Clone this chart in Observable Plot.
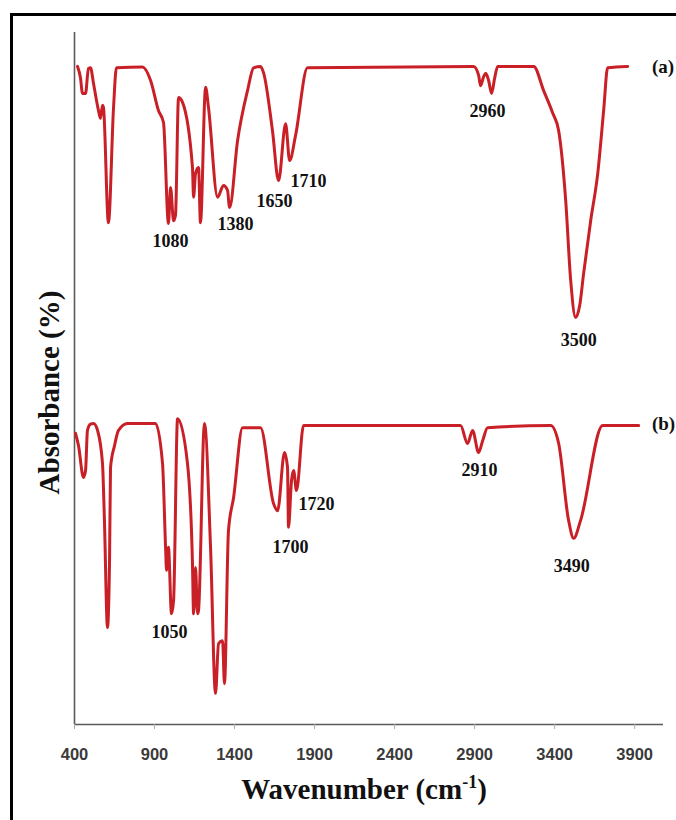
<!DOCTYPE html>
<html>
<head>
<meta charset="utf-8">
<script src="https://cdn.jsdelivr.net/npm/d3@7"></script>
<script src="https://cdn.jsdelivr.net/npm/@observablehq/plot@0.6"></script>
<style>
  html, body { margin: 0; padding: 0; background: #fff; overflow: hidden; }
  #wrap { position: relative; width: 676px; height: 820px; overflow: hidden; background: #fff; }
  #frame { position: absolute; left: 10px; top: 13px; width: 720px; height: 860px; border: 3px solid #000; box-sizing: border-box; pointer-events: none; }
  #chart { position: absolute; left: 0; top: 0; }
</style>
</head>
<body>
<div id="wrap"><div id="chart"></div><div id="frame"></div></div>
<script>
// Spectrum (a): wavenumber (cm-1) and absorbance (%)
const wnA  = [419, 437, 450, 469, 487, 500, 519, 550, 562, 575, 581, 612, 644, 662, 825, 875, 925, 956, 987, 1000, 1019, 1031, 1050, 1075, 1137, 1144, 1156, 1175, 1187, 1219, 1237, 1294, 1331, 1356, 1369, 1419, 1481, 1519, 1562, 1581, 1637, 1675, 1719, 1744, 1781, 1856, 2894, 2925, 2937, 2956, 2969, 2987, 3006, 3025, 3044, 3269, 3331, 3387, 3425, 3469, 3500, 3531, 3556, 3581, 3625, 3669, 3706, 3731, 3856];
const absA = [95.1, 93.5, 91.2, 91.2, 94.8, 94.9, 92.6, 88.7, 87.6, 89.5, 89.2, 72.5, 89.2, 94.9, 95.0, 93.1, 88.7, 87.0, 72.4, 77.6, 72.8, 73.6, 90.6, 89.9, 80.5, 76.2, 79.6, 80.5, 72.5, 92.1, 89.2, 76.2, 77.9, 77.2, 74.7, 84.4, 91.6, 94.9, 95.1, 94.2, 85.8, 78.6, 86.8, 81.5, 85.1, 94.9, 95.1, 93.8, 92.3, 93.6, 94.1, 93.1, 91.2, 93.4, 95.1, 95.1, 91.6, 88.4, 85.8, 75.7, 64.2, 58.8, 60.5, 65.2, 72.8, 79.6, 88.7, 94.9, 95.1];

// Spectrum (b)
const wnB  = [406, 425, 456, 469, 481, 500, 519, 544, 575, 587, 606, 619, 625, 650, 675, 731, 906, 950, 969, 975, 987, 1006, 1019, 1044, 1106, 1137, 1144, 1156, 1169, 1175, 1212, 1250, 1281, 1300, 1325, 1337, 1362, 1394, 1450, 1562, 1644, 1669, 1712, 1731, 1737, 1756, 1769, 1787, 1831, 2812, 2856, 2887, 2925, 2950, 2981, 3375, 3425, 3487, 3519, 3562, 3700, 3925];
const absB = [42.1, 40.3, 35.7, 36.7, 42.5, 43.4, 43.5, 42.5, 37.7, 29.5, 14.0, 23.7, 37.1, 40.3, 42.5, 43.5, 43.5, 37.7, 25.6, 22.3, 25.6, 16.0, 17.9, 44.2, 37.7, 23.3, 16.0, 22.7, 16.0, 16.5, 43.5, 25.6, 4.5, 11.7, 12.1, 5.9, 28.0, 32.8, 42.9, 42.9, 31.9, 30.9, 39.3, 37.1, 28.5, 35.3, 36.7, 33.8, 43.2, 43.2, 40.6, 42.5, 39.3, 41.0, 42.9, 43.2, 40.6, 29.5, 26.9, 29.5, 43.2, 43.2];

// Peak annotations
const peakText = ["1080", "1380", "1650", "1710", "2960", "3500", "1050", "1700", "1720", "2910", "3490"];
const peakWn   = [1000, 1406, 1650, 1862, 2981, 3550, 994, 1750, 1912, 2931, 3506];
const peakAbs  = [69.8, 72.3, 75.6, 78.5, 88.6, 55.6, 13.4, 25.6, 31.8, 36.8, 22.8];

// Panel labels
const panelText = ["(a)", "(b)"];
const panelWn   = [4008, 4008];
const panelAbs  = [95.1, 43.4];

const xTicks = [400, 900, 1400, 1900, 2400, 2900, 3400, 3900];
const xTitle = "Wavenumber (cm-1)";
const yTitle = "Absorbance (%)";

const specA = wnA.map((w, i) => ({wn: w, abs: absA[i]}));
const specB = wnB.map((w, i) => ({wn: w, abs: absB[i]}));
const peaks = peakText.map((t, i) => ({t, wn: peakWn[i], abs: peakAbs[i]}));
const panels = panelText.map((t, i) => ({t, wn: panelWn[i], abs: panelAbs[i]}));

const red = "#c92027";
const serif = "'Liberation Serif', 'Times New Roman', serif";

const chart = Plot.plot({
  width: 676,
  height: 820,
  marginLeft: 74,
  marginRight: 13,
  marginTop: 32,
  marginBottom: 96,
  style: {background: "transparent", overflow: "visible"},
  x: {domain: [400, 4080]},
  y: {domain: [0, 100], axis: null},
  marks: [
    Plot.ruleX([400], {stroke: "#5a5a5a", strokeWidth: 1.6}),
    Plot.ruleY([0], {stroke: "#5a5a5a", strokeWidth: 1.6}),
    Plot.axisX({ticks: xTicks, tickSize: 5, tickPadding: 19, stroke: "#aaa", fill: "#3a3a3a",
      fontSize: 16.5, fontWeight: "bold", fontFamily: "'Liberation Sans', Arial, sans-serif", label: null, tickFormat: d => String(d)}),
    Plot.line(specA, {x: "wn", y: "abs", stroke: red, strokeWidth: 3, curve: "monotone-x"}),
    Plot.line(specB, {x: "wn", y: "abs", stroke: red, strokeWidth: 3, curve: "monotone-x"}),
    Plot.text(peaks, {x: "wn", y: "abs", text: "t", fontSize: 18, fontWeight: "bold", fontFamily: serif, fill: "#111", lineAnchor: "middle"}),
    Plot.text(panels, {x: "wn", y: "abs", text: "t", fontSize: 19, fontWeight: "bold", fontFamily: serif, fill: "#111", textAnchor: "start", lineAnchor: "middle"}),
    Plot.text([xTitle], {frameAnchor: "bottom", dx: -5, dy: 74, fontSize: 29, fontWeight: "bold", fontFamily: serif, fill: "#111"}),
    Plot.text([yTitle], {frameAnchor: "left", textAnchor: "middle", dx: -25, dy: 14, rotate: -90, fontSize: 29, fontWeight: "bold", fontFamily: serif, fill: "#111"})
  ]
});

// superscript for the unit
chart.querySelectorAll("text").forEach(t => {
  if (t.textContent === xTitle) {
    t.textContent = "";
    t.appendChild(document.createTextNode("Wavenumber (cm"));
    const sup = document.createElementNS("http://www.w3.org/2000/svg", "tspan");
    sup.setAttribute("font-size", "18");
    sup.setAttribute("dy", "-11");
    sup.textContent = "-1";
    t.appendChild(sup);
    const close = document.createElementNS("http://www.w3.org/2000/svg", "tspan");
    close.setAttribute("dy", "11");
    close.textContent = ")";
    t.appendChild(close);
  }
});

document.getElementById("chart").appendChild(chart);
</script>
</body>
</html>
